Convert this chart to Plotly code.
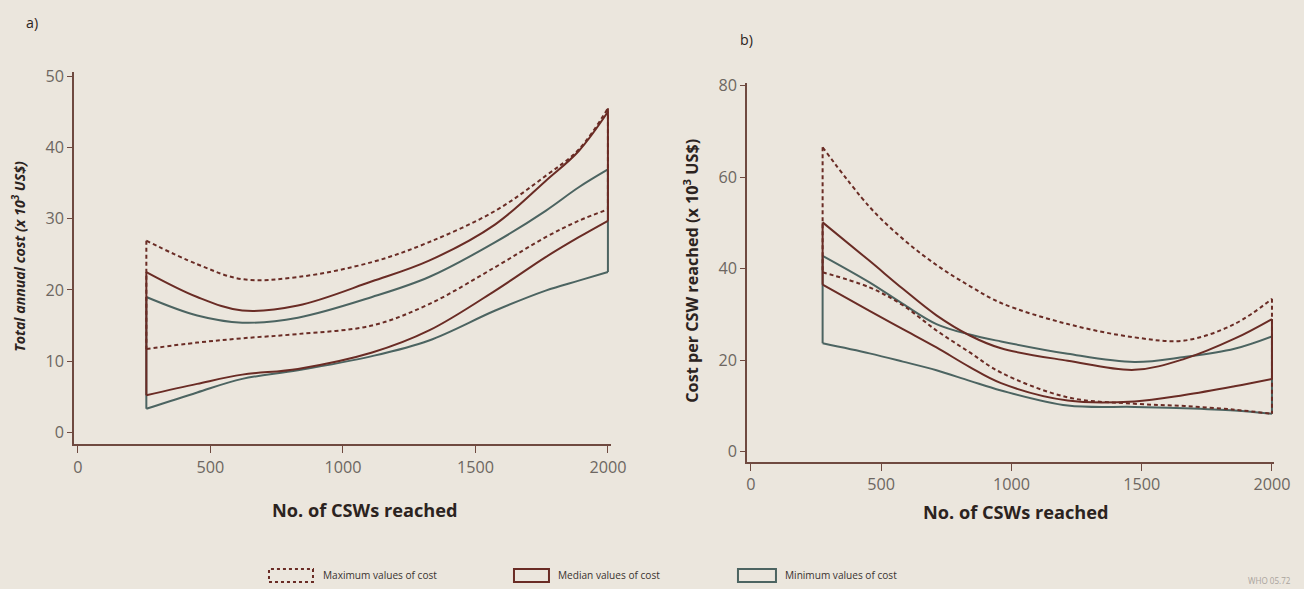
import plotly.graph_objects as go

# ---------------- Data ----------------
# Panel a: Total annual cost (x 10^3 US$) vs No. of CSWs reached
xa = [258, 450, 620, 830, 1110, 1325, 1575, 1765, 1890, 2000]
a_max_hi = [26.9, 23.6, 21.5, 21.8, 23.9, 26.7, 31.1, 36.0, 39.7, 45.5]
a_max_lo = [11.7, 12.6, 13.2, 13.8, 15.0, 18.0, 23.2, 27.4, 29.7, 31.3]
a_med_hi = [22.5, 19.0, 17.1, 17.8, 21.2, 24.1, 29.2, 35.3, 39.5, 45.0]
a_med_lo = [5.2, 6.8, 8.1, 8.9, 11.2, 14.3, 19.9, 24.6, 27.4, 29.7]
a_min_hi = [19.0, 16.4, 15.4, 16.1, 19.0, 21.8, 26.7, 31.1, 34.4, 36.9]
a_min_lo = [3.3, 5.6, 7.5, 8.7, 10.7, 12.9, 17.1, 19.9, 21.3, 22.5]

# Panel b: Cost per CSW reached (x 10^3 US$) vs No. of CSWs reached
xb = [275, 455, 583, 712, 840, 960, 1216, 1472, 1664, 1856, 2000]
b_max_hi = [66.5, 53.5, 46.5, 40.8, 36.2, 32.5, 27.9, 25.0, 24.3, 27.9, 33.4]
b_max_lo = [39.2, 35.9, 32.0, 26.5, 21.7, 17.3, 11.9, 10.5, 10.0, 9.2, 8.3]
b_med_hi = [50.1, 41.7, 35.6, 29.8, 25.4, 22.6, 19.9, 17.9, 20.3, 24.7, 29.0]
b_med_lo = [36.5, 30.8, 26.8, 22.8, 18.5, 15.0, 11.2, 11.0, 12.4, 14.3, 15.9]
b_min_hi = [42.8, 37.0, 32.3, 27.9, 25.6, 24.1, 21.4, 19.6, 20.7, 22.5, 25.2]
b_min_lo = [23.7, 21.5, 19.7, 17.8, 15.5, 13.4, 10.1, 9.8, 9.5, 9.0, 8.3]

x_ticks = [0, 500, 1000, 1500, 2000]
a_yticks = [0, 10, 20, 30, 40, 50]
b_yticks = [0, 20, 40, 60, 80]

legend_labels = ["Maximum values of cost", "Median values of cost", "Minimum values of cost"]

# ---------------- Styles ----------------
BG = "#ebe6dd"
BROWN = "#6a2c25"
TEAL = "#4c6461"
AXIS = "#6f4a40"
TICKC = "#6d6661"
DASH = "4px,3px"

W, H = 1304, 589
S = 0.987  # empirical render scale compensation


def px(x):
    return x / (W * S)


def py(y):
    return (H - y) / (H * S)


def fs(s):
    return round(s / S, 1)


fig = go.Figure()


def add_band(x, hi, lo, color, dash, xa_name, ya_name):
    common = dict(mode="lines", xaxis=xa_name, yaxis=ya_name, showlegend=False,
                  hoverinfo="skip")
    fig.add_trace(go.Scatter(x=x, y=hi, line=dict(color=color, width=2, dash=dash,
                                                  shape="spline", smoothing=1.0), **common))
    fig.add_trace(go.Scatter(x=x, y=lo, line=dict(color=color, width=2, dash=dash,
                                                  shape="spline", smoothing=1.0), **common))
    fig.add_trace(go.Scatter(x=[x[0], x[0]], y=[hi[0], lo[0]],
                             line=dict(color=color, width=2, dash=dash), **common))
    fig.add_trace(go.Scatter(x=[x[-1], x[-1]], y=[hi[-1], lo[-1]],
                             line=dict(color=color, width=2, dash=dash), **common))


# panel a
add_band(xa, a_min_hi, a_min_lo, TEAL, "solid", "x", "y")
add_band(xa, a_med_hi, a_med_lo, BROWN, "solid", "x", "y")
add_band(xa, a_max_hi, a_max_lo, BROWN, DASH, "x", "y")
# panel b
add_band(xb, b_min_hi, b_min_lo, TEAL, "solid", "x2", "y2")
add_band(xb, b_med_hi, b_med_lo, BROWN, "solid", "x2", "y2")
add_band(xb, b_max_hi, b_max_lo, BROWN, DASH, "x2", "y2")

tickfont = dict(family="Open Sans", size=fs(16), color=TICKC)
axis_common = dict(showgrid=False, zeroline=False, showline=True, linecolor=AXIS,
                   linewidth=1.5, ticks="outside", tickcolor=AXIS, tickfont=tickfont,
                   fixedrange=True)

# target pixel frames: panel a x 73..609.6, y 70.7..444.1 ; panel b x 746.1..1273.1, y 82.0..461.6
fig.update_layout(
    width=W, height=H,
    margin=dict(l=0, r=0, t=0, b=0),
    paper_bgcolor=BG, plot_bgcolor=BG,
    showlegend=False,
    xaxis=dict(domain=[px(73), px(609.6)], range=[-15, 2010], tickvals=x_ticks,
               ticklen=7, anchor="y", **axis_common),
    yaxis=dict(domain=[py(444.1), py(70.7)], range=[-1.7, 50.6], tickvals=a_yticks,
               ticklen=5, anchor="x", **axis_common),
    xaxis2=dict(domain=[px(746.1), px(1273.1)], range=[-15, 2008], tickvals=x_ticks,
                ticklen=7, anchor="y2", **axis_common),
    yaxis2=dict(domain=[py(461.6), py(82.0)], range=[-2.2, 80.5], tickvals=b_yticks,
                ticklen=5, anchor="x2", **axis_common),
)

TITLE_C = "#2b2320"
ann = []
ann.append(dict(text="<b><i>Total annual cost (x 10<sup>3</sup> US$)</i></b>", x=px(18),
                y=py(255), textangle=-90, font=dict(family="Open Sans", size=fs(14), color=TITLE_C)))
ann.append(dict(text="<b>Cost per CSW reached (x 10<sup>3</sup> US$)</b>", x=px(690),
                y=py(270), textangle=-90, font=dict(family="Open Sans", size=fs(16), color=TITLE_C)))
ann.append(dict(text="<b>No. of CSWs reached</b>", x=px(364), y=py(510),
                font=dict(family="Open Sans", size=fs(18), color=TITLE_C)))
ann.append(dict(text="<b>No. of CSWs reached</b>", x=px(1015), y=py(512),
                font=dict(family="Open Sans", size=fs(18), color=TITLE_C)))
ann.append(dict(text="a)", x=px(31), y=py(21),
                font=dict(family="Open Sans", size=fs(14), color=TITLE_C)))
ann.append(dict(text="b)", x=px(746), y=py(38),
                font=dict(family="Open Sans", size=fs(14), color=TITLE_C)))

# legend
leg_boxes = [(268, 312, BROWN, "dot"), (513, 548, BROWN, "solid"), (737, 775, TEAL, "solid")]
leg_text_x = [320, 555, 782]
shapes = []
for (x0, x1, col, d), tx, lab in zip(leg_boxes, leg_text_x, legend_labels):
    shapes.append(dict(type="rect", xref="paper", yref="paper",
                       x0=px(x0), x1=px(x1), y0=py(582), y1=py(569),
                       line=dict(color=col, width=2, dash=d), fillcolor="rgba(0,0,0,0)"))
    ann.append(dict(text=lab, x=px(tx), y=py(575), xanchor="left",
                    font=dict(family="Open Sans", size=fs(10), color="#3a3330")))
ann.append(dict(text="WHO 05.72", x=px(1292), y=py(580), xanchor="right",
                font=dict(family="Open Sans", size=fs(8), color="#a9a39c")))

for a in ann:
    a.setdefault("xref", "paper")
    a.setdefault("yref", "paper")
    a.setdefault("showarrow", False)
    a.setdefault("xanchor", "center")
    a.setdefault("yanchor", "middle")

fig.update_layout(annotations=ann, shapes=shapes)

fig.write_html(
    "out.html",
    config={"displayModeBar": False},
    post_script=(
        "var h=document.documentElement,b=document.body;"
        "h.style.margin='0';h.style.padding='0';h.style.overflow='hidden';h.style.height='589px';"
        "b.style.margin='0';b.style.padding='0';b.style.overflow='hidden';b.style.height='589px';"
    ),
)
